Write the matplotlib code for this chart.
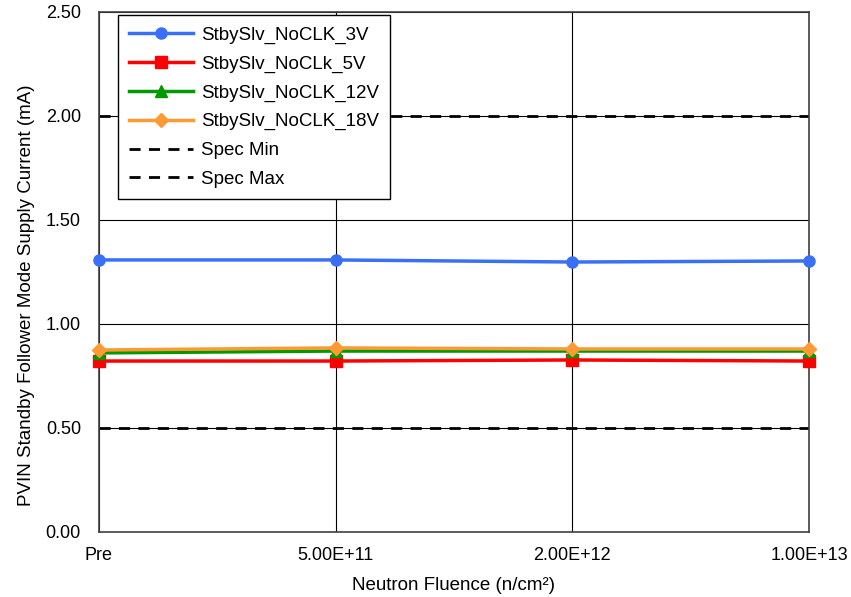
import matplotlib.pyplot as plt

plt.rcParams['font.family'] = ['Liberation Sans', 'DejaVu Sans']

fluence = ["Pre", "5.00E+11", "2.00E+12", "1.00E+13"]
i_3v = [1.308, 1.308, 1.298, 1.303]
i_5v = [0.822, 0.822, 0.827, 0.822]
i_12v = [0.861, 0.870, 0.870, 0.870]
i_18v = [0.875, 0.885, 0.880, 0.880]
spec_min = [0.5, 0.5, 0.5, 0.5]
spec_max = [2.0, 2.0, 2.0, 2.0]

x = list(range(len(fluence)))

fig = plt.figure(figsize=(8.51, 5.97), dpi=100)
ax = fig.add_axes([99 / 851, 65 / 597, 710 / 851, 520 / 597])

ax.plot(x, i_3v, color='#3a6ff7', marker='o', markersize=8, linewidth=2.5, label='StbySlv_NoCLK_3V', clip_on=False, zorder=5)
ax.plot(x, i_5v, color='#ff0000', marker='s', markersize=8, linewidth=2.5, label='StbySlv_NoCLk_5V', clip_on=False, zorder=5)
ax.plot(x, i_12v, color='#009900', marker='^', markersize=8, linewidth=2.5, label='StbySlv_NoCLK_12V', clip_on=False, zorder=5)
ax.plot(x, i_18v, color='#ff9933', marker='D', markersize=7, linewidth=2.5, label='StbySlv_NoCLK_18V', clip_on=False, zorder=5)
ax.plot(x, spec_min, color='black', linestyle=(0, (4, 3)), linewidth=2, label='Spec Min')
ax.plot(x, spec_max, color='black', linestyle=(0, (4, 3)), linewidth=2, label='Spec Max')

ax.set_xlim(0, 3)
ax.set_ylim(0, 2.5)
ax.set_xticks(x)
ax.set_xticklabels(fluence)
ax.set_yticks([0, 0.5, 1.0, 1.5, 2.0, 2.5])
ax.set_yticklabels(["0.00", "0.50", "1.00", "1.50", "2.00", "2.50"])
ax.tick_params(labelsize=13, length=0)
ax.tick_params(axis='y', pad=13)
ax.tick_params(axis='x', pad=11)

ax.set_axisbelow(True)
ax.grid(True, color='black', linewidth=0.8)
for s in ax.spines.values():
    s.set_color('#404040')
    s.set_linewidth(1.2)

ax.set_xlabel("Neutron Fluence (n/cm²)", fontsize=13.5, labelpad=9)
ax.set_ylabel("PVIN Standby Follower Mode Supply Current (mA)", fontsize=13.5, labelpad=8)
ax.yaxis.label.set_y(0.456)

leg = ax.legend(loc='upper left', bbox_to_anchor=(0.027, 0.994), borderaxespad=0, fontsize=13.5,
                frameon=True, fancybox=False, edgecolor='black', framealpha=1,
                handlelength=3.4, labelspacing=0.62, borderpad=0.6, handletextpad=0.4)
leg.get_frame().set_linewidth(1.0)

fig.savefig("out.png", dpi=100)
